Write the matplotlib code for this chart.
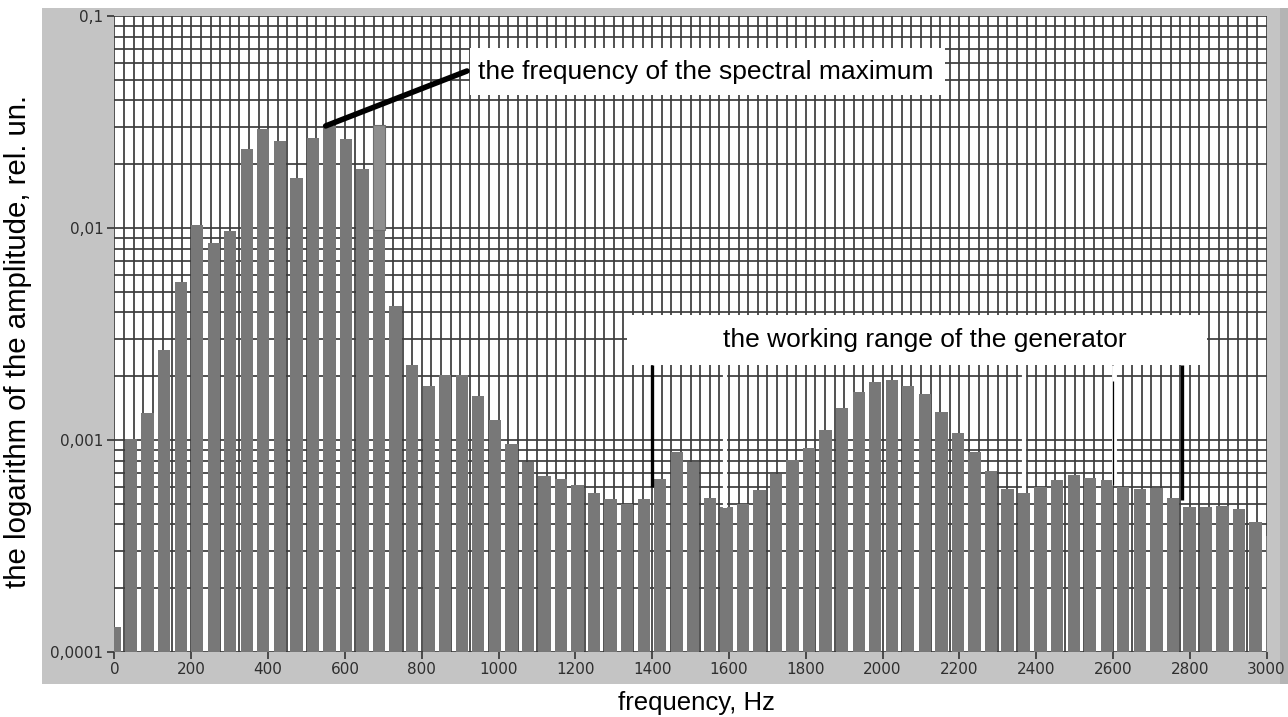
"""Amplitude spectrum of the generator signal on a logarithmic scale."""

import matplotlib.pyplot as plt
import numpy as np
from matplotlib.patches import Rectangle
from matplotlib.ticker import FixedLocator, MultipleLocator, NullFormatter

# FFT bins: 1024-point transform at 44.1 kHz
SAMPLE_RATE = 44100
NFFT = 1024

amplitude = [
    0.000121, 0.00100, 0.00133, 0.00264, 0.00558, 0.0103, 0.00853, 0.00964,
    0.0235, 0.0292, 0.0258, 0.0172, 0.0267, 0.0303, 0.0262, 0.0189,
    0.0306, 0.00428, 0.00226, 0.00178, 0.00201, 0.00201, 0.00160, 0.00123,
    0.00095, 0.000776, 0.000667, 0.000646, 0.000603, 0.000552, 0.000516, 0.000490,
    0.000517, 0.000648, 0.000865, 0.000776, 0.000525, 0.000471, 0.000490, 0.000568,
    0.000684, 0.000798, 0.000903, 0.00111, 0.00141, 0.00168, 0.00186, 0.00190,
    0.00178, 0.00163, 0.00135, 0.00107, 0.000871, 0.000705, 0.000577, 0.000555,
    0.000588, 0.000636, 0.000676, 0.000655, 0.000636, 0.000588, 0.000577, 0.000585,
    0.000525, 0.000471, 0.000471, 0.000480, 0.000465, 0.000402, 0.000344,
]
frequency = np.arange(len(amplitude)) * SAMPLE_RATE / NFFT

# index of the spectral maximum and the re-drawn upper part of the last peak bar
peak_bin = 13
patched_bin = 16
patched_low = 0.0098

# working range of the generator, Hz
range_lo, range_hi = 1400, 2780
range_top = 0.00226
range_lo_end, range_hi_end = 0.0006, 0.00052

x_ticks = list(range(0, 3001, 200))
y_ticks = [0.0001, 0.001, 0.01, 0.1]
y_ticklabels = ["0,0001", "0,001", "0,01", "0,1"]

W, H = 1288, 717


def fig_xy(px, py):
    """Pixel position -> figure fraction."""
    return px / W, 1 - py / H


fig = plt.figure(figsize=(W / 100, H / 100), dpi=100, facecolor="white")

# grey panel behind the graph
fig.patches.append(Rectangle(fig_xy(42, 684), (W - 42) / W, (684 - 8) / H,
                             transform=fig.transFigure, facecolor="#c4c4c4",
                             edgecolor="none", zorder=-2))
fig.patches.append(Rectangle(fig_xy(1280, 684), 8 / W, (684 - 8) / H,
                             transform=fig.transFigure, facecolor="#b4b4b4",
                             edgecolor="none", zorder=-1))

left, bottom = fig_xy(114.5, 652)
ax = fig.add_axes([left, bottom, (1266.5 - 114.5) / W, (652 - 16) / H])
ax.set_facecolor("white")

ax.bar(frequency, amplitude, width=32, bottom=1e-5, color="#787878", zorder=2)
ax.bar(frequency[patched_bin], amplitude[patched_bin] - patched_low, width=32,
       bottom=patched_low, color="#8e8e8e", edgecolor="#6e6e6e", lw=0.8, zorder=2)

ax.set_yscale("log")
ax.set_xlim(0, 3000)
ax.set_ylim(0.0001, 0.1)

ax.xaxis.set_major_locator(FixedLocator(x_ticks))
ax.xaxis.set_minor_locator(MultipleLocator(25))
ax.yaxis.set_major_locator(FixedLocator(y_ticks))
ax.set_yticklabels(y_ticklabels)
ax.yaxis.set_minor_formatter(NullFormatter())

ax.grid(which="both", color="#3c3c3c", lw=1.25, zorder=1)
ax.set_axisbelow(True)
for s in ax.spines.values():
    s.set_visible(False)

ax.tick_params(which="major", direction="out", length=5, width=1.2, color="#333333",
               labelsize=11, labelcolor="#2e2e2e", pad=3)
ax.tick_params(axis="x", which="major", pad=2)
ax.tick_params(which="minor", length=0)

# spectral maximum pointer
ax.annotate("", xy=(frequency[peak_bin] - 10, amplitude[peak_bin]),
            xytext=fig_xy(467, 71), textcoords="figure fraction",
            arrowprops=dict(arrowstyle="-", lw=4, color="black", shrinkA=0, shrinkB=0),
            zorder=5)
fig.patches.append(Rectangle(fig_xy(470, 95), 475 / W, 47 / H, transform=fig.transFigure,
                             facecolor="white", edgecolor="none", zorder=3))
fig.text(*fig_xy(706, 72), "the frequency of the spectral maximum", ha="center",
         va="center", fontsize=19, family="Liberation Sans", zorder=4)

# working range markers
fig.patches.append(Rectangle(fig_xy(627, 365), 580 / W, 50 / H, transform=fig.transFigure,
                             facecolor="white", edgecolor="none", zorder=3))
fig.text(*fig_xy(925, 340), "the working range of the generator", ha="center",
         va="center", fontsize=19, family="Liberation Sans", zorder=4)
ax.vlines(range_lo, range_lo_end, range_top, color="black", lw=2.4, zorder=4)
ax.vlines(range_hi, range_hi_end, range_top, color="black", lw=2.4, zorder=4)

# erased marker traces
ax.vlines([1590, 2369], [0.00048, 0.00056], range_top, color="white", lw=3, zorder=3)
ax.vlines(2603, 0.000614, range_top, color="white", lw=3.5, zorder=3)
ax.vlines(2601, 0.000614, 0.0019, color="black", lw=0.9, zorder=4)

fig.text(*fig_xy(696, 703), "frequency, Hz", ha="center", va="center",
         fontsize=18.5, family="Liberation Sans")
fig.text(*fig_xy(18, 342), "the logarithm of the amplitude, rel. un.", ha="center",
         va="center", rotation=90, fontsize=21.2, family="Liberation Sans")

fig.savefig("out.png", dpi=100, facecolor="white")
